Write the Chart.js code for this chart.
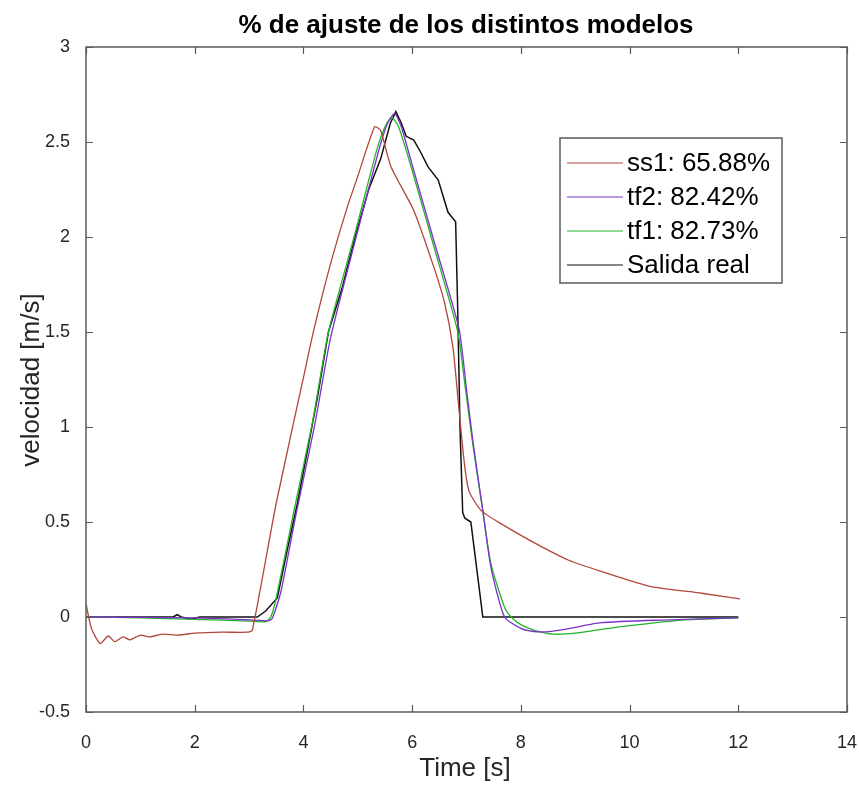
<!DOCTYPE html>
<html>
<head>
<meta charset="utf-8">
<script src="https://cdn.jsdelivr.net/npm/chart.js@4/dist/chart.umd.min.js"></script>
<style>
  body { margin: 0; background: #fff; }
  #wrap { width: 859px; height: 787px; }
</style>
</head>
<body>
<div id="wrap"><canvas id="chart" width="859" height="787"></canvas></div>
<script>
// series (time in s, velocity in m/s)
const ss1T = [0, 0.1, 0.26, 0.41, 0.53, 0.68, 0.81, 1.0, 1.18, 1.4, 1.7, 2.0, 2.5, 2.97, 3.06, 3.5, 4.0, 4.19, 4.5, 4.81, 5.0, 5.31, 5.42, 5.61, 6.03, 6.4, 6.6, 6.75, 6.84, 6.96, 7.05, 7.27, 7.64, 8.25, 8.87, 9.48, 10.4, 11.33, 12.03];
const ss1Y = [0.07, -0.06, -0.14, -0.10, -0.13, -0.105, -0.12, -0.095, -0.105, -0.09, -0.095, -0.085, -0.08, -0.08, -0.07, 0.6, 1.26, 1.51, 1.86, 2.16, 2.32, 2.58, 2.56, 2.37, 2.14, 1.84, 1.65, 1.42, 1.16, 0.81, 0.66, 0.56, 0.49, 0.39, 0.30, 0.24, 0.16, 0.125, 0.095];

const tf2T = [0, 2, 3, 3.35, 3.42, 3.5, 3.6, 3.85, 4.2, 4.5, 4.97, 5.38, 5.55, 5.68, 5.8, 6.0, 6.4, 6.86, 7.0, 7.12, 7.3, 7.45, 7.7, 8.0, 8.2, 8.45, 8.8, 9.48, 10.6, 12];
const tf2Y = [0, -0.005, -0.015, -0.02, -0.01, 0.05, 0.15, 0.52, 1.0, 1.47, 2.0, 2.45, 2.6, 2.65, 2.58, 2.38, 1.98, 1.52, 1.2, 0.92, 0.56, 0.26, 0.0, -0.06, -0.075, -0.078, -0.065, -0.03, -0.016, -0.005];

const tf1T = [0, 1, 2, 3, 3.3, 3.4, 3.5, 3.82, 4.17, 4.46, 4.95, 5.35, 5.5, 5.62, 5.75, 5.98, 6.4, 6.84, 6.98, 7.12, 7.3, 7.45, 7.7, 7.82, 8.0, 8.25, 8.6, 9.0, 9.48, 10.0, 10.96, 12];
const tf1Y = [0, -0.005, -0.012, -0.022, -0.025, 0, 0.1, 0.55, 1.03, 1.5, 2.02, 2.46, 2.58, 2.63, 2.58, 2.37, 1.95, 1.5, 1.2, 0.9, 0.56, 0.28, 0.05, 0, -0.04, -0.07, -0.09, -0.085, -0.065, -0.045, -0.016, -0.005];

const realT = [0, 1.6, 1.68, 1.75, 1.92, 2.1, 3.15, 3.3, 3.52, 3.7, 3.89, 4.05, 4.26, 4.46, 4.72, 4.95, 5.2, 5.42, 5.6, 5.7, 5.8, 5.89, 6.03, 6.15, 6.29, 6.48, 6.66, 6.8, 6.84, 6.88, 6.93, 6.97, 7.08, 7.3, 12];
const realY = [0, 0, 0.012, 0, -0.01, 0, 0, 0.03, 0.1, 0.35, 0.6, 0.84, 1.16, 1.5, 1.74, 2.0, 2.25, 2.41, 2.6, 2.66, 2.6, 2.53, 2.51, 2.45, 2.37, 2.3, 2.13, 2.08, 1.6, 1.0, 0.55, 0.52, 0.5, 0, 0];

const seriesLabels = ['ss1: 65.88%', 'tf2: 82.42%', 'tf1: 82.73%', 'Salida real'];
const xTicks = [0, 2, 4, 6, 8, 10, 12, 14];
const yTicks = [-0.5, 0, 0.5, 1, 1.5, 2, 2.5, 3];

const FONT = '"Liberation Sans", Arial, sans-serif';

function pts(t, y) {
    return t.map((v, i) => ({ x: v, y: y[i] }));
}

function line(label, t, y, color, w, tension) {
    return {
        label: label,
        data: pts(t, y),
        borderColor: color,
        borderWidth: w,
        pointRadius: 0,
        tension: tension,
        cubicInterpolationMode: 'default',
        fill: false
    };
}

// title, axis box, inside ticks, axis labels and legend, drawn MATLAB style
const matlabLook = {
    id: 'matlabLook',
    beforeDraw(chart) {
        const c = chart.ctx;
        c.save();
        c.fillStyle = '#fff';
        c.fillRect(0, 0, chart.width, chart.height);
        c.restore();
    },
    afterDraw(chart) {
        const c = chart.ctx;
        const a = chart.chartArea;
        const xs = chart.scales.x, ys = chart.scales.y;
        c.save();

        // box
        c.strokeStyle = '#5a5a5a';
        c.lineWidth = 1.5;
        c.strokeRect(a.left, a.top, a.right - a.left, a.bottom - a.top);

        // inside ticks on all four sides
        c.lineWidth = 1.2;
        c.beginPath();
        xTicks.forEach(v => {
            const px = Math.round(xs.getPixelForValue(v)) + 0.5;
            c.moveTo(px, a.bottom); c.lineTo(px, a.bottom - 7);
            c.moveTo(px, a.top); c.lineTo(px, a.top + 7);
        });
        yTicks.forEach(v => {
            const py = Math.round(ys.getPixelForValue(v)) + 0.5;
            c.moveTo(a.left, py); c.lineTo(a.left + 7, py);
            c.moveTo(a.right, py); c.lineTo(a.right - 7, py);
        });
        c.stroke();

        // title
        c.fillStyle = '#000';
        c.font = 'bold 26px ' + FONT;
        c.textAlign = 'center';
        c.textBaseline = 'alphabetic';
        c.fillText('% de ajuste de los distintos modelos', 466, 33);

        // axis labels
        c.fillStyle = '#262626';
        c.font = '26px ' + FONT;
        c.fillText('Time [s]', 465, 776);
        c.save();
        c.translate(39, 380);
        c.rotate(-Math.PI / 2);
        c.fillText('velocidad [m/s]', 0, 0);
        c.restore();

        // legend
        const lx = 560, ly = 138, lw = 222, lh = 145;
        c.fillStyle = '#fff';
        c.fillRect(lx, ly, lw, lh);
        c.strokeStyle = '#5a5a5a';
        c.lineWidth = 1.5;
        c.strokeRect(lx, ly, lw, lh);
        c.font = '26px ' + FONT;
        c.textAlign = 'left';
        c.textBaseline = 'middle';
        chart.data.datasets.forEach((ds, i) => {
            const cy = ly + 25 + i * 34;
            c.strokeStyle = ds.borderColor;
            c.lineWidth = 1.2;
            c.beginPath();
            c.moveTo(lx + 7, cy);
            c.lineTo(lx + 63, cy);
            c.stroke();
            c.fillStyle = '#000';
            c.fillText(ds.label, lx + 67, cy + 1);
        });

        c.restore();
    }
};

const ctx = document.querySelector('#chart').getContext('2d');

new Chart(ctx, {
    type: 'line',
    data: {
        datasets: [
            line(seriesLabels[0], ss1T, ss1Y, '#b0463c', 1.3, 0.2),
            line(seriesLabels[1], tf2T, tf2Y, '#7a34c8', 1.3, 0.2),
            line(seriesLabels[2], tf1T, tf1Y, '#22b52a', 1.3, 0.2),
            line(seriesLabels[3], realT, realY, '#111111', 1.5, 0)
        ]
    },
    options: {
        responsive: false,
        animation: false,
        events: [],
        layout: { padding: { top: 47, right: 2, left: 0, bottom: 0 } },
        plugins: {
            legend: { display: false },
            title: { display: false },
            tooltip: { enabled: false }
        },
        scales: {
            x: {
                type: 'linear',
                min: 0,
                max: 14,
                afterBuildTicks: s => { s.ticks = xTicks.map(v => ({ value: v })); },
                afterFit: s => { s.height = 75; s.paddingRight = 12; },
                grid: { display: false },
                border: { display: false },
                ticks: {
                    color: '#262626',
                    font: { family: FONT, size: 18 },
                    padding: 12,
                    maxRotation: 0,
                    callback: v => String(v)
                }
            },
            y: {
                min: -0.5,
                max: 3,
                afterBuildTicks: s => { s.ticks = yTicks.map(v => ({ value: v })); },
                afterFit: s => { s.width = 86; },
                grid: { display: false },
                border: { display: false },
                ticks: {
                    color: '#262626',
                    font: { family: FONT, size: 18 },
                    padding: 8,
                    callback: v => String(v)
                }
            }
        }
    },
    plugins: [matlabLook]
});
</script>
</body>
</html>
